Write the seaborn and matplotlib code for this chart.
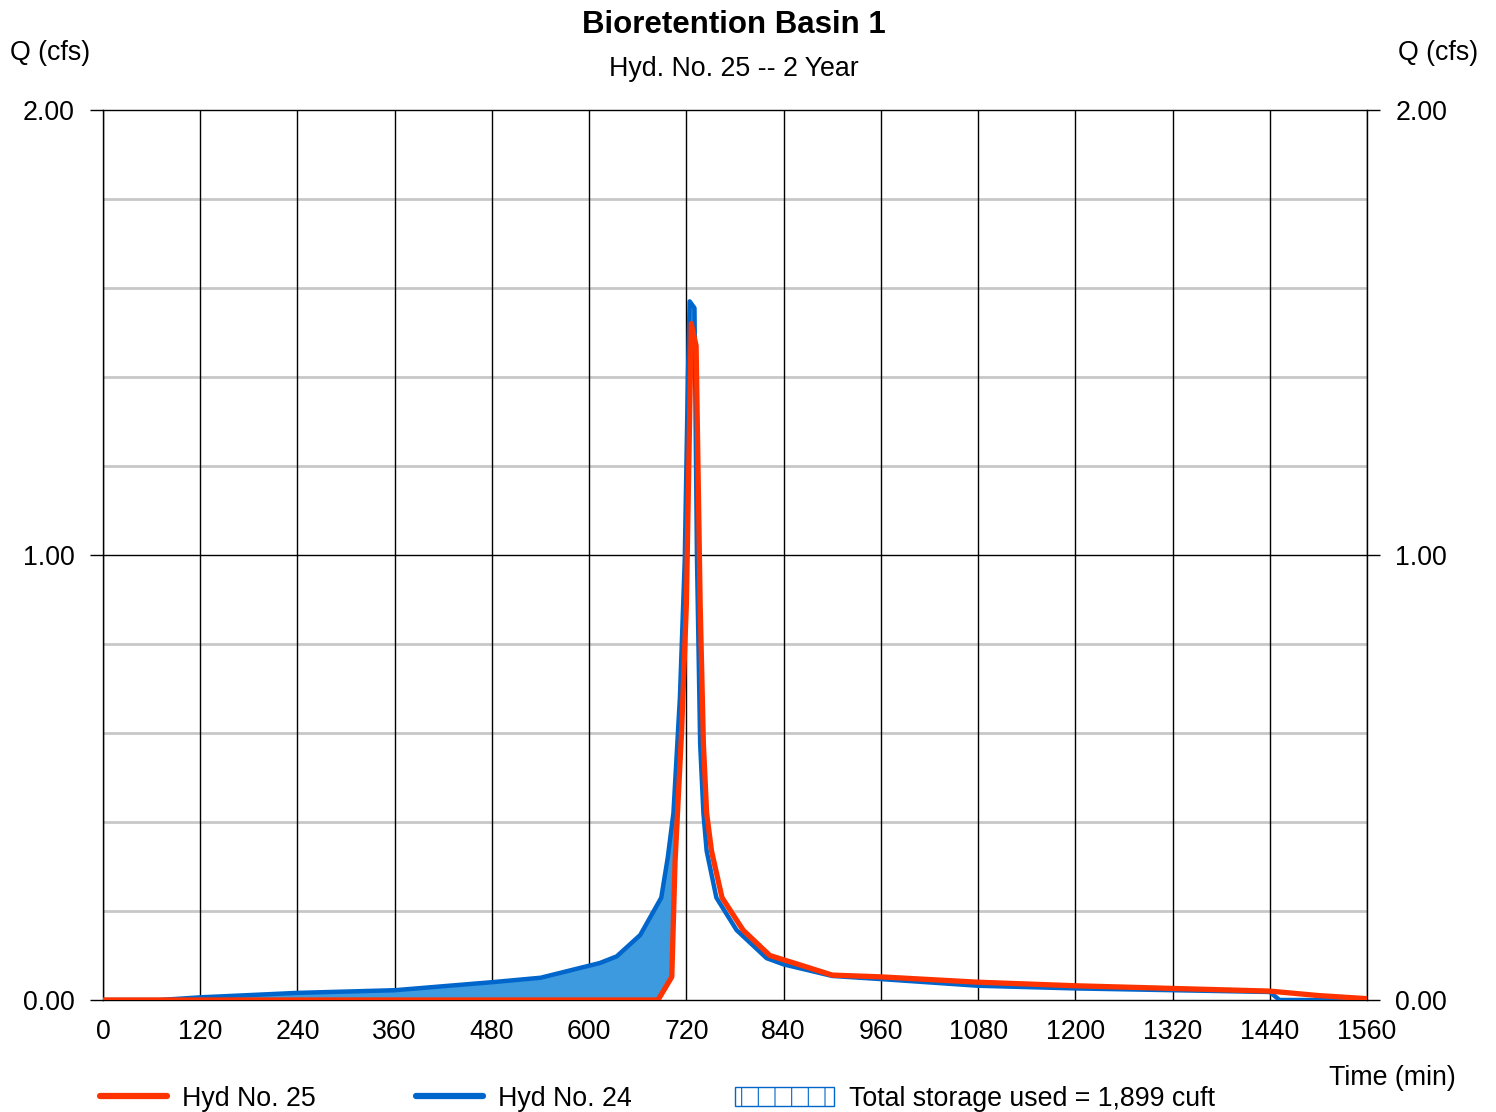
import numpy as np
import pandas as pd
import matplotlib
matplotlib.use("Agg")
import matplotlib.pyplot as plt
from matplotlib.lines import Line2D
from matplotlib.patches import Patch
import seaborn as sns

# ---- data ----
t24 = [0, 70, 120, 240, 360, 480, 540, 613, 634, 663, 689, 697, 704, 712, 718,
       722, 724, 730, 733, 737, 741, 745, 757, 782, 819, 840, 900, 960, 1080,
       1200, 1320, 1440, 1452, 1560]
q24 = [0, 0, 0.006, 0.016, 0.022, 0.04, 0.05, 0.083, 0.098, 0.146, 0.23, 0.32,
       0.42, 0.68, 0.99, 1.41, 1.57, 1.555, 1.0, 0.575, 0.42, 0.335, 0.23, 0.157,
       0.094, 0.08, 0.054, 0.047, 0.032, 0.026, 0.022, 0.018, 0.0, 0.0]

t25 = [0, 685, 702, 706, 714, 720, 726, 732, 737, 741, 745, 751, 764, 790, 823,
       860, 900, 960, 1080, 1200, 1320, 1440, 1500, 1560]
q25 = [0, 0, 0.052, 0.31, 0.6, 0.89, 1.52, 1.47, 0.89, 0.575, 0.42, 0.335, 0.23,
       0.157, 0.1, 0.079, 0.056, 0.052, 0.04, 0.032, 0.026, 0.02, 0.01, 0.003]

x_ticks = [0, 120, 240, 360, 480, 600, 720, 840, 960, 1080, 1200, 1320, 1440, 1560]
y_ticks = [0.0, 1.0, 2.0]

title = "Bioretention Basin 1"
subtitle = "Hyd. No. 25 -- 2 Year"
storage_label = "Total storage used = 1,899 cuft"

RED = "#ff3300"
BLUE = "#0066cc"
FILL = "#3d9ade"

sns.set_style("white")
plt.rcParams['font.family'] = ['Liberation Sans', 'DejaVu Sans']
plt.rcParams['text.color'] = 'black'
plt.rcParams['xtick.color'] = 'black'
plt.rcParams['ytick.color'] = 'black'
plt.rcParams['hatch.color'] = BLUE
plt.rcParams['hatch.linewidth'] = 0.8

FS = 19.3

fig = plt.figure(figsize=(14.96, 11.12), dpi=100)
ax = fig.add_axes([103/1496, 1 - 1000/1112, (1367-103)/1496, (1000-110)/1112])

df24 = pd.DataFrame({"t": t24, "q": q24})
df25 = pd.DataFrame({"t": t25, "q": q25})

# storage fill
grid = np.union1d(t24, t25)
b = np.interp(grid, t24, q24)
r = np.interp(grid, t25, q25)
ax.fill_between(grid, r, b, where=b > r, interpolate=True, color=FILL, lw=0, zorder=2)

sns.lineplot(data=df24, x="t", y="q", ax=ax, color=BLUE, lw=3.2, zorder=3)
sns.lineplot(data=df25, x="t", y="q", ax=ax, color=RED, lw=3.8, zorder=4)

ax.set_xlim(0, 1560)
ax.set_ylim(0, 2)

# grid
for xv in x_ticks:
    ax.axvline(xv, color="black", lw=1.0, zorder=1)
for yv in np.arange(0.2, 2.0, 0.2):
    if abs(yv - 1.0) > 1e-6:
        ax.axhline(yv, color="#c8c8c8", lw=2.0, zorder=0.5)
ax.axhline(1.0, color="black", lw=1.0, zorder=1)

for s in ax.spines.values():
    s.set_color("black")
    s.set_linewidth(1.0)

ax.set_xticks(x_ticks)
ax.set_xticklabels([str(v) for v in x_ticks])
ax.set_yticks(y_ticks)
ax.set_yticklabels([f"{v:.2f}" for v in y_ticks])
ax.tick_params(axis="x", length=0, pad=14, labelsize=FS, labelcolor="black")
ax.tick_params(axis="y", which="both", left=True, right=True, labelleft=True,
               labelright=True, direction="out", length=9.5, width=1.0,
               color="black", pad=11, labelsize=FS, labelcolor="black")
ax.set_xlabel("")
ax.set_ylabel("")

fig.text(734/1496, 1 - 25/1112, title, ha="center", va="center",
         fontsize=22.5, fontweight="bold", color="black")
fig.text(734/1496, 1 - 69/1112, subtitle, ha="center", va="center", fontsize=FS, color="black")
fig.text(50/1496, 1 - 53/1112, "Q (cfs)", ha="center", va="center", fontsize=FS, color="black")
fig.text(1438/1496, 1 - 53/1112, "Q (cfs)", ha="center", va="center", fontsize=FS, color="black")
fig.text(1392/1496, 1 - 1078/1112, "Time (min)", ha="center", va="center", fontsize=FS, color="black")

# legend entries
yl = 1 - 1099/1112
entries = [
    (100, Line2D([], [], color=RED, lw=4.5), "Hyd No. 25", 2.5),
    (416, Line2D([], [], color=BLUE, lw=4.5), "Hyd No. 24", 2.5),
    (735, Patch(facecolor="white", edgecolor=BLUE, hatch="|", lw=1.0), storage_label, 3.7),
]
for xpx, h, lab, hl in entries:
    leg = fig.legend([h], [lab], loc="center left",
                     bbox_to_anchor=(xpx/1496, yl), frameon=False,
                     fontsize=FS, handlelength=hl, handleheight=0.75,
                     handletextpad=0.55, borderpad=0, borderaxespad=0,
                     labelcolor="black")

fig.savefig("out.png", dpi=100)
